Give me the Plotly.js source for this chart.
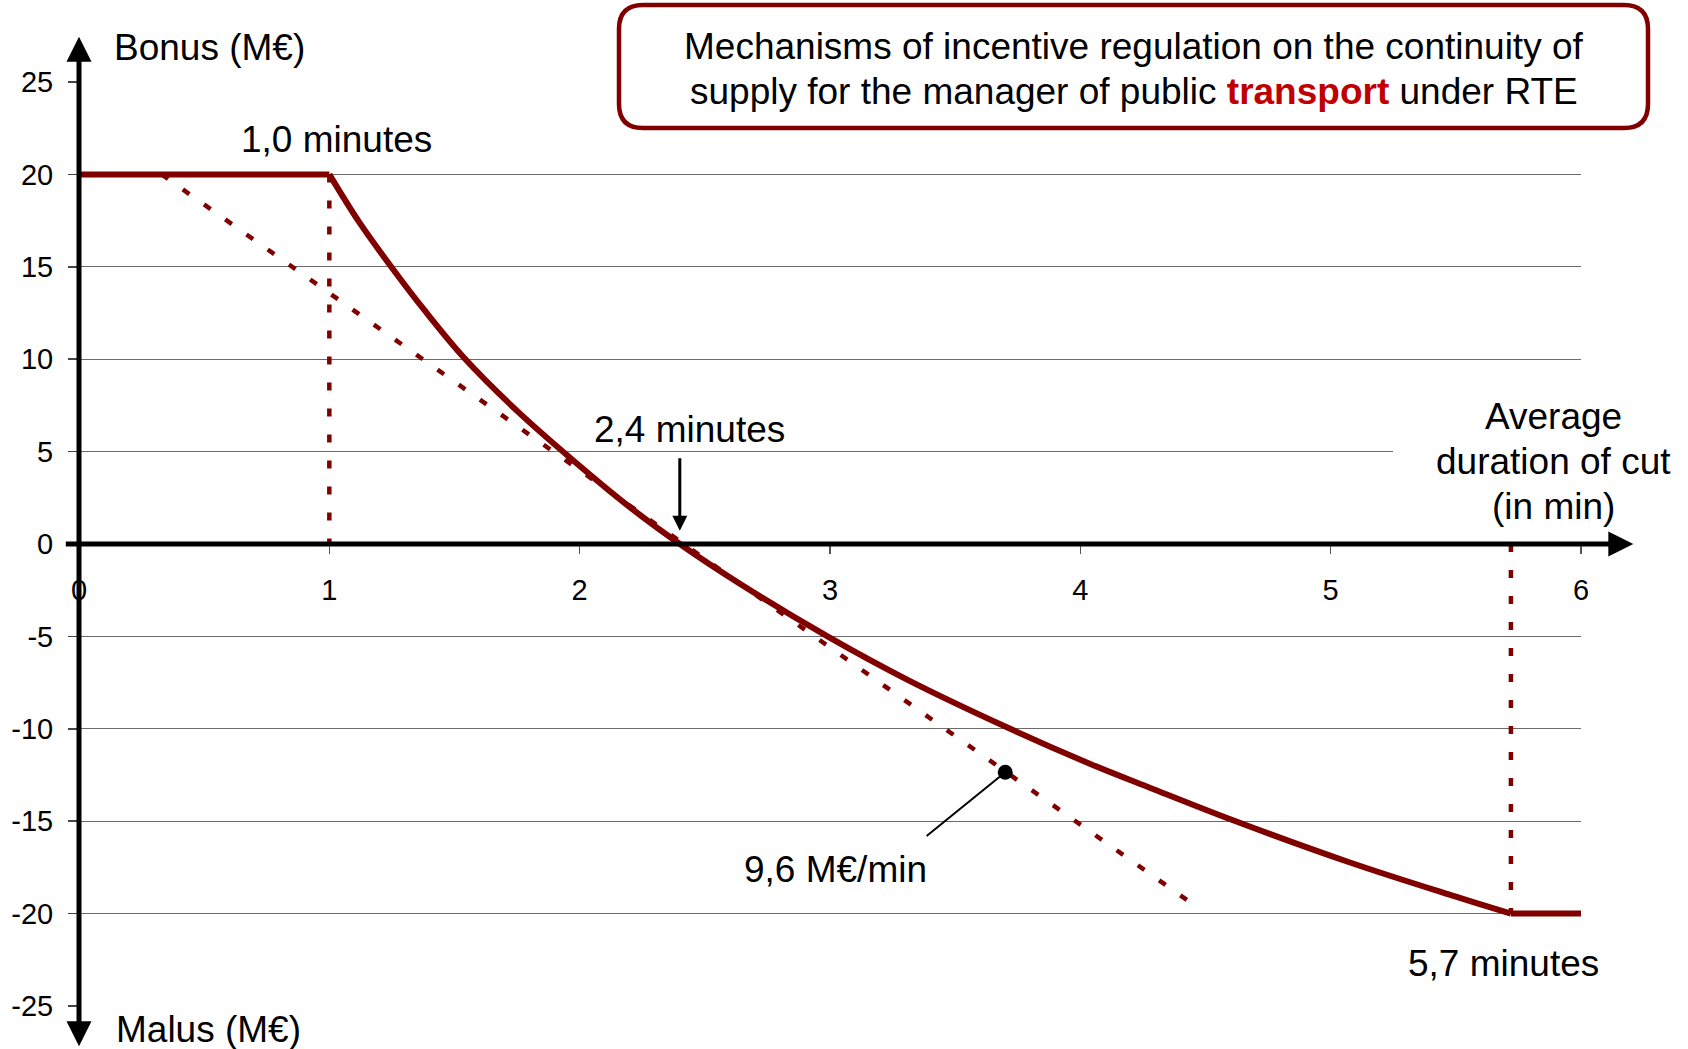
<!DOCTYPE html>
<html>
<head>
<meta charset="utf-8">
<script src="https://cdn.plot.ly/plotly-3.0.1.min.js"></script>
<style>
  html, body { margin: 0; padding: 0; background: #ffffff; }
  #chart { width: 1688px; height: 1049px; }
</style>
</head>
<body>
<div id="chart"></div>
<script>
// ---- data ----
const capX = [0, 1];
const capY = [20, 20];
const curveX = [1, 1.12, 1.25, 1.38, 1.54, 1.75, 1.95, 2.19, 2.40, 2.64, 2.99, 3.31, 3.72, 4.04, 4.28, 4.61, 5.08, 5.48, 5.72];
const curveY = [20, 17.4, 14.95, 12.65, 10.05, 7.2, 4.8, 2.1, 0, -2.15, -5.0, -7.35, -10.0, -11.9, -13.2, -14.95, -17.25, -19.0, -20];
const floorX = [5.72, 6];
const floorY = [-20, -20];
const tangentX = [0.33, 4.44];
const tangentY = [20, -19.4];
const bonusLimitX = [1, 1];
const bonusLimitY = [20, 0];
const malusLimitX = [5.72, 5.72];
const malusLimitY = [0, -20];
const slopePointX = [3.70];
const slopePointY = [-12.35];
const leaderX = [3.70, 3.386];
const leaderY = [-12.35, -15.8];

const xTickVals = [0, 1, 2, 3, 4, 5, 6];
const xTickText = ['0', '1', '2', '3', '4', '5', '6'];
const yTickVals = [-25, -20, -15, -10, -5, 0, 5, 10, 15, 20, 25];
const yTickText = ['-25', '-20', '-15', '-10', '-5', '0', '5', '10', '15', '20', '25'];

const titleLine1 = 'Mechanisms of incentive regulation on the continuity of';
const titleLine2a = 'supply for the manager of public ';
const titleWord = 'transport';
const titleLine2b = ' under RTE';
const xAxisTitleLines = ['Average', 'duration of cut', '(in min)'];

// ---- styles ----
const MAROON = '#800000';
const FONT = 'Liberation Sans, Arial, Helvetica, sans-serif';
const ANNO_SIZE = 37;

const traces = [
  { x: tangentX, y: tangentY, mode: 'lines', line: { color: MAROON, width: 4.5, dash: '8px,18px' }, cliponaxis: false },
  { x: bonusLimitX, y: bonusLimitY, mode: 'lines', line: { color: MAROON, width: 4.5, dash: '8px,18px' }, cliponaxis: false },
  { x: malusLimitX, y: malusLimitY, mode: 'lines', line: { color: MAROON, width: 4.5, dash: '8px,18px' }, cliponaxis: false },
  { x: capX, y: capY, mode: 'lines', line: { color: MAROON, width: 6 }, cliponaxis: false },
  { x: curveX, y: curveY, mode: 'lines', line: { color: MAROON, width: 6, shape: 'spline', smoothing: 1 }, cliponaxis: false },
  { x: floorX, y: floorY, mode: 'lines', line: { color: MAROON, width: 6 }, cliponaxis: false },
  { x: leaderX, y: leaderY, mode: 'lines', line: { color: '#000000', width: 2 }, cliponaxis: false },
  { x: slopePointX, y: slopePointY, mode: 'markers', marker: { color: '#000000', size: 15 }, cliponaxis: false }
];

// plot area in pixels: x 79..1581, y 82..1006
const PX = (px) => (px - 79) / 1502;
const PY = (py) => (1006 - py) / 924;

// rounded title box in paper coordinates
const bx0 = PX(619), bx1 = PX(1648), byT = PY(5), byB = PY(128), rx = 24 / 1502, ry = 24 / 924;
const boxPath = `M ${bx0 + rx},${byT} L ${bx1 - rx},${byT} Q ${bx1},${byT} ${bx1},${byT - ry} ` +
  `L ${bx1},${byB + ry} Q ${bx1},${byB} ${bx1 - rx},${byB} L ${bx0 + rx},${byB} ` +
  `Q ${bx0},${byB} ${bx0},${byB + ry} L ${bx0},${byT - ry} Q ${bx0},${byT} ${bx0 + rx},${byT} Z`;

const font = { family: FONT, size: ANNO_SIZE, color: '#000000' };
const txt = (text, x, y, extra) => Object.assign({
  text: text, x: x, y: y, xref: 'x', yref: 'y', xanchor: 'center', yanchor: 'middle', showarrow: false, font: font
}, extra || {});
const ptxt = (text, px, py, extra) => Object.assign({
  text: text, x: PX(px), y: PY(py), xref: 'paper', yref: 'paper', xanchor: 'center', yanchor: 'middle',
  showarrow: false, font: font
}, extra || {});

const annotations = [
  txt('1,0 minutes', 1.03, 21.9),
  txt('2,4 minutes', 2.437, 6.22),
  txt('5,7 minutes', 5.69, -22.7),
  txt('9,6 M€/min', 3.02, -17.6),
  ptxt('Bonus (M€)', 112, 47.5, { xanchor: 'left' }),
  ptxt('Malus (M€)', 114, 1029, { xanchor: 'left' }),
  ptxt(xAxisTitleLines[0], 1553, 417),
  ptxt(xAxisTitleLines[1], 1553, 462),
  ptxt(xAxisTitleLines[2], 1553, 506),
  ptxt(titleLine1, 1134, 46.5),
  ptxt(titleLine2a + '<b><span style="color:#c00000">' + titleWord + '</span></b>' + titleLine2b, 1134, 91.5),
  // 2,4 minutes pointer
  { text: '', xref: 'x', yref: 'y', axref: 'x', ayref: 'y', x: 2.40, y: 0.72, ax: 2.40, ay: 4.72,
    showarrow: true, arrowhead: 2, arrowsize: 1, arrowwidth: 3, arrowcolor: '#000000' },
  // x axis with arrow
  { text: '', xref: 'paper', yref: 'paper', axref: 'pixel', ayref: 'pixel', x: PX(1633.3), y: 0.5, ax: -1569, ay: 0,
    showarrow: true, arrowhead: 2, arrowsize: 1, arrowwidth: 5, arrowcolor: '#000000' },
  // y axis with two arrows
  { text: '', xref: 'paper', yref: 'paper', axref: 'pixel', ayref: 'pixel', x: 0, y: PY(36.7), ax: 0, ay: 1011,
    showarrow: true, arrowside: 'end+start', arrowhead: 2, startarrowhead: 2, arrowsize: 1, startarrowsize: 1,
    arrowwidth: 5, arrowcolor: '#000000' }
];

const layout = {
  width: 1688, height: 1049,
  margin: { l: 79, r: 107, t: 82, b: 43, pad: 0, autoexpand: false },
  paper_bgcolor: '#ffffff', plot_bgcolor: '#ffffff',
  showlegend: false, hovermode: false,
  font: { family: FONT, size: 29, color: '#000000' },
  xaxis: {
    range: [0, 6], tickmode: 'array', tickvals: xTickVals, ticktext: xTickText,
    anchor: 'free', position: 0.5, side: 'bottom',
    ticks: 'outside', ticklen: 9, tickwidth: 1.5, tickcolor: '#555555',
    showgrid: false, zeroline: false, showline: false, automargin: false,
    ticklabelstandoff: 11, tickfont: { family: FONT, size: 29, color: '#000000' }
  },
  yaxis: {
    range: [-25, 25], tickmode: 'array', tickvals: yTickVals, ticktext: yTickText,
    ticks: 'outside', ticklen: 10, tickwidth: 1.5, tickcolor: '#444444',
    showgrid: true, gridcolor: '#6b6b6b', gridwidth: 1.3,
    zeroline: false, showline: false, automargin: false,
    ticklabelstandoff: 9, tickfont: { family: FONT, size: 29, color: '#000000' }
  },
  shapes: [
    // white backing behind the x-axis caption (hides the 5 gridline there)
    { type: 'rect', xref: 'paper', yref: 'paper', x0: PX(1393), x1: PX(1690), y0: PY(532), y1: PY(392),
      layer: 'above', fillcolor: '#ffffff', line: { width: 0 } },
    { type: 'path', xref: 'paper', yref: 'paper', path: boxPath, layer: 'above',
      fillcolor: '#ffffff', line: { color: MAROON, width: 4.5 } }
  ],
  annotations: annotations
};

Plotly.newPlot('chart', traces, layout, { displayModeBar: false, staticPlot: true });
</script>
</body>
</html>
